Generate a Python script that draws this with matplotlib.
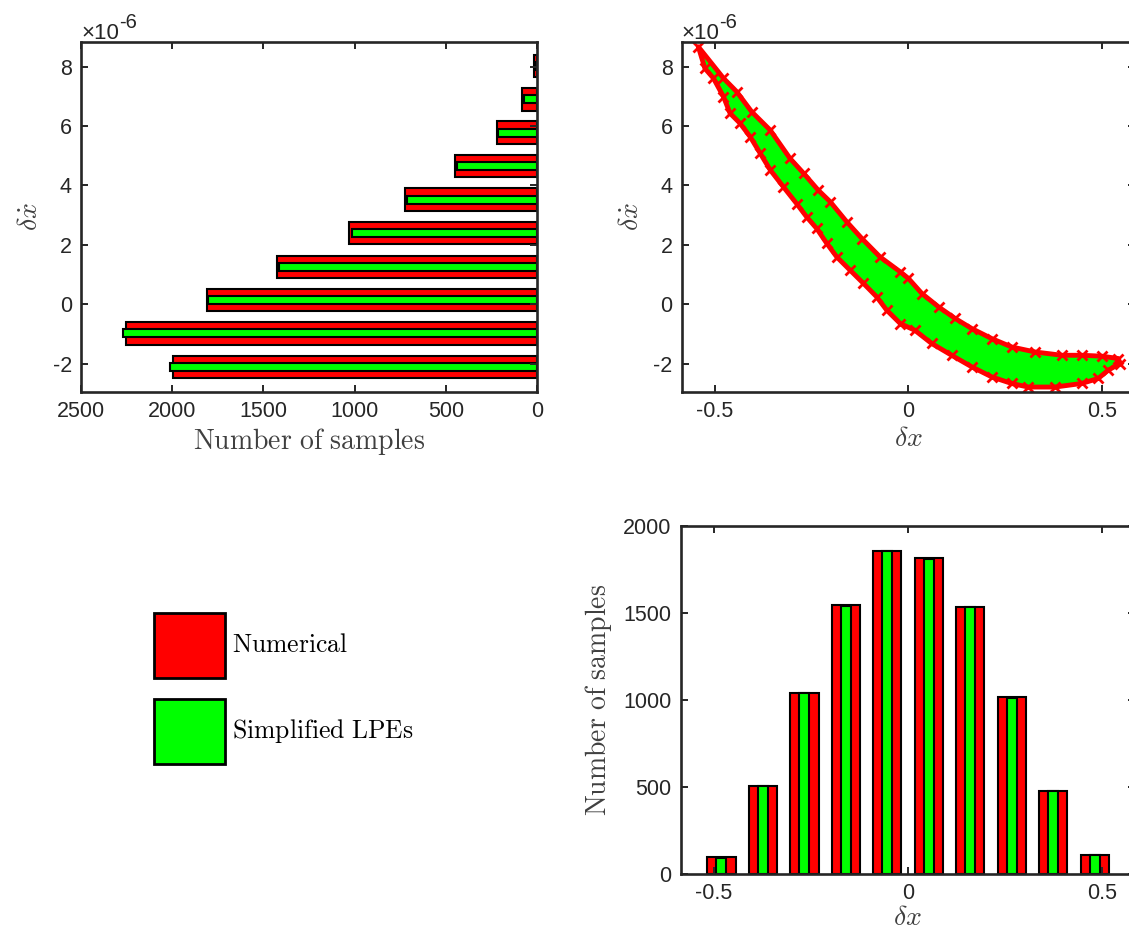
import matplotlib.pyplot as plt
from matplotlib.patches import Patch

# histogram of delta x-dot (bin centres in units of 1e-6)
xdot_centers = [-2.11, -0.98, 0.14, 1.26, 2.40, 3.52, 4.66, 5.78, 6.90, 8.02]
xdot_numerical = [1994, 2255, 1811, 1427, 1031, 721, 447, 220, 80, 16]
xdot_simplified = [2011, 2272, 1802, 1413, 1015, 711, 439, 214, 74, 12]

# histogram of delta x
x_centers = [-0.481, -0.374, -0.267, -0.160, -0.053, 0.054, 0.161, 0.268, 0.375, 0.482]
x_numerical = [96, 507, 1043, 1545, 1858, 1818, 1533, 1018, 477, 109]
x_simplified = [92, 507, 1043, 1541, 1856, 1811, 1537, 1014, 475, 107]

# outline of the sample cloud (delta x, delta x-dot in 1e-6)
upper_x = [-0.543, -0.478, -0.444, -0.405, -0.357, -0.306, -0.271, -0.233, -0.202,
           -0.159, -0.120, -0.073, -0.021, 0.000, 0.035, 0.078, 0.121, 0.164,
           0.216, 0.267, 0.328, 0.397, 0.448, 0.500, 0.543]
upper_y = [8.67, 7.61, 7.16, 6.48, 5.86, 4.91, 4.41, 3.84, 3.45,
           2.77, 2.21, 1.59, 1.09, 0.87, 0.36, -0.09, -0.48, -0.82,
           -1.16, -1.44, -1.61, -1.72, -1.72, -1.75, -1.83]
lower_x = [-0.526, -0.504, -0.478, -0.461, -0.435, -0.409, -0.383, -0.357, -0.323,
           -0.289, -0.263, -0.237, -0.211, -0.185, -0.151, -0.116, -0.082, -0.056,
           -0.021, 0.017, 0.060, 0.112, 0.164, 0.216, 0.267, 0.310, 0.379,
           0.448, 0.491, 0.517, 0.547]
lower_y = [7.94, 7.61, 6.99, 6.43, 6.09, 5.64, 5.08, 4.52, 3.95,
           3.39, 2.94, 2.55, 2.05, 1.59, 1.15, 0.70, 0.25, -0.20,
           -0.65, -0.88, -1.32, -1.72, -2.11, -2.45, -2.67, -2.79, -2.79,
           -2.67, -2.50, -2.22, -2.00]

count_ticks = [2500, 2000, 1500, 1000, 500, 0]
xdot_ticks = [-2, 0, 2, 4, 6, 8]
x_ticks = [-0.5, 0, 0.5]
x_ticklabels = ['-0.5', '0', '0.5']
hist_ticks = [0, 500, 1000, 1500, 2000]

RED = '#ff0000'
GREEN = '#00ff00'
AXC = '#262626'

plt.rcParams['font.family'] = 'Liberation Sans'
plt.rcParams['mathtext.fontset'] = 'cm'
plt.rcParams['axes.unicode_minus'] = False
plt.rcParams['axes.edgecolor'] = AXC
plt.rcParams['axes.linewidth'] = 1.9
plt.rcParams['xtick.color'] = AXC
plt.rcParams['ytick.color'] = AXC

W, H = 1129, 935
fig = plt.figure(figsize=(W / 100, H / 100), dpi=100)


def box(x0, y0, x1, y1):
    return [x0 / W, 1 - y1 / H, (x1 - x0) / W, (y1 - y0) / H]


def style(ax):
    ax.tick_params(direction='in', top=True, right=True, length=5, width=1.4,
                   labelsize=15.5, pad=6.5, colors=AXC)


def exponent(ax):
    t = ax.text(0.0, 0.996, '\u00d710', transform=ax.transAxes, ha='left',
                va='bottom', fontsize=16, color=AXC)
    ax.annotate('-6', xy=(1.0, 0.55), xycoords=t, ha='left', va='bottom',
                fontsize=14.5, color=AXC)


lbl = dict(fontsize=20, color='#404040')

# top left: horizontal histogram of delta x-dot
ax1 = fig.add_axes(box(81, 42.3, 537, 391.5))
ax1.barh(xdot_centers, xdot_numerical, height=0.76, color=RED,
         edgecolor='black', linewidth=1.5)
ax1.barh(xdot_centers, xdot_simplified, height=0.27, color=GREEN,
         edgecolor='black', linewidth=1.5)
ax1.set_xlim(2500, 0)
ax1.set_ylim(-2.94, 8.82)
ax1.set_xticks(count_ticks)
ax1.set_yticks(xdot_ticks)
style(ax1)
ax1.set_xlabel(r'$\mathrm{Number\ of\ samples}$', labelpad=3, **lbl)
ax1.set_ylabel(r'$\delta\dot{x}$', labelpad=7, **lbl)
exponent(ax1)

# top right: sample cloud
ax2 = fig.add_axes(box(681.7, 42.3, 1135, 391.5))
cloud_x = upper_x + lower_x[::-1]
cloud_y = upper_y + lower_y[::-1]
ax2.fill(cloud_x, cloud_y, facecolor=GREEN, edgecolor=RED, linewidth=3.5,
         joinstyle='round')
ax2.plot(cloud_x, cloud_y, 'x', color=RED, ms=7, mew=2)
ax2.set_xlim(-0.586, 0.586)
ax2.set_ylim(-2.94, 8.82)
ax2.set_xticks(x_ticks)
ax2.set_xticklabels(x_ticklabels)
ax2.set_yticks(xdot_ticks)
style(ax2)
ax2.set_xlabel(r'$\delta x$', labelpad=3, **lbl)
ax2.set_ylabel(r'$\delta\dot{x}$', labelpad=7, **lbl)
exponent(ax2)

# bottom right: histogram of delta x
ax3 = fig.add_axes(box(680.7, 526, 1135, 874))
ax3.bar(x_centers, x_numerical, width=0.073, color=RED,
        edgecolor='black', linewidth=1.5)
ax3.bar(x_centers, x_simplified, width=0.026, color=GREEN,
        edgecolor='black', linewidth=1.5)
ax3.set_xlim(-0.586, 0.586)
ax3.set_ylim(0, 2000)
ax3.set_xticks(x_ticks)
ax3.set_xticklabels(x_ticklabels)
ax3.set_yticks(hist_ticks)
style(ax3)
ax3.set_xlabel(r'$\delta x$', labelpad=1, **lbl)
ax3.set_ylabel(r'$\mathrm{Number\ of\ samples}$', labelpad=7, **lbl)

# legend in the empty bottom-left slot
handles = [Patch(facecolor=RED, edgecolor='black', linewidth=2,
                 label=r'$\mathrm{Numerical}$'),
           Patch(facecolor=GREEN, edgecolor='black', linewidth=2,
                 label=r'$\mathrm{Simplified\ LPEs}$')]
fig.legend(handles=handles, loc='upper left',
           bbox_to_anchor=(154 / W, 1 - 612.7 / H), frameon=False,
           fontsize=18.5, handlelength=2.76, handleheight=3.515,
           handletextpad=0.27, labelspacing=0.82, borderpad=0,
           borderaxespad=0)

fig.savefig('out.png', dpi=100)
